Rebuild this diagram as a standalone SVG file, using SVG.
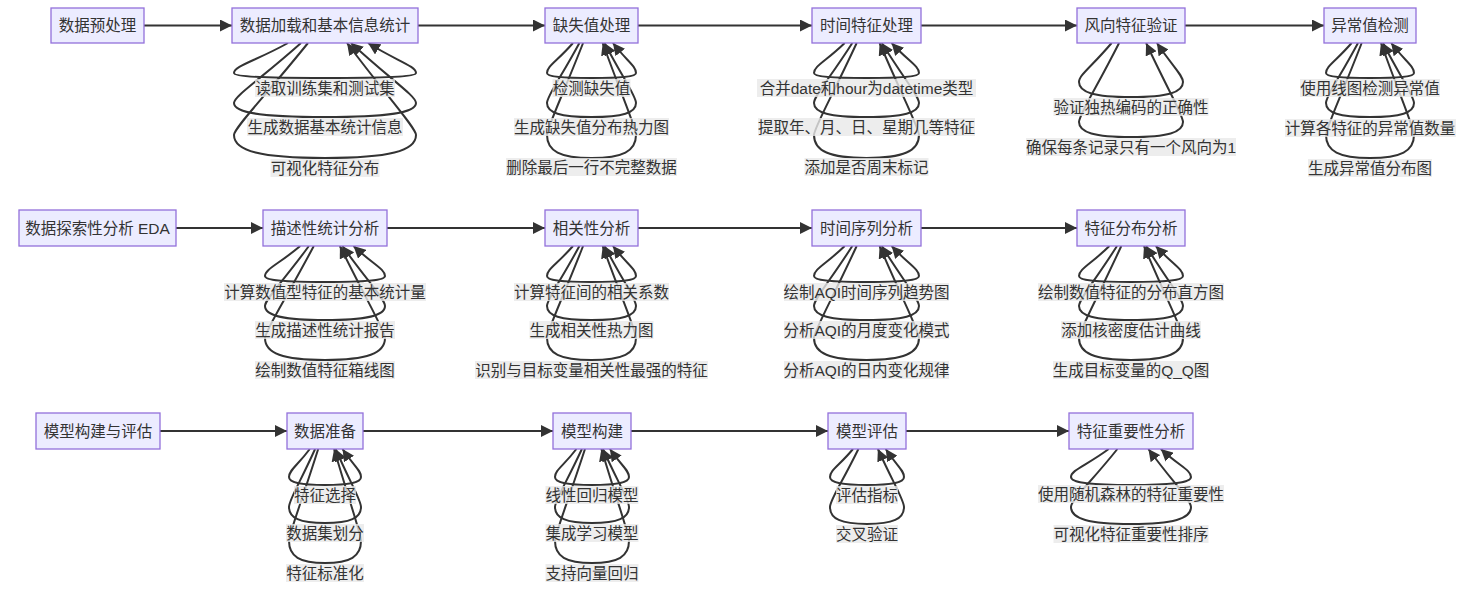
<svg xmlns="http://www.w3.org/2000/svg" width="1476" height="590" viewBox="0 0 1476 590">
<style>
.node rect{fill:#ECECFF;stroke:#9370DB;stroke-width:1.3}
text{font-family:"Liberation Sans","Noto Sans CJK SC",sans-serif;font-size:15.5px;fill:#333;text-anchor:middle;dominant-baseline:central}
.edge{fill:none;stroke:#333;stroke-width:2;marker-end:url(#arr)}
.lbl rect{fill:rgba(232,232,232,0.8)}
</style>
<defs>
<marker id="arr" viewBox="0 0 10 10" refX="10" refY="5" markerUnits="userSpaceOnUse" markerWidth="12" markerHeight="12" orient="auto"><path d="M0,0 L10,5 L0,10 z" fill="#333"/></marker>
</defs>
<rect width="1476" height="590" fill="#fff"/>
<g id="connectors">
<path class="edge" d="M144,25.5 L232,25.5"/>
<path class="edge" d="M418,25.5 L545,25.5"/>
<path class="edge" d="M638,25.5 L812,25.5"/>
<path class="edge" d="M921,25.5 L1077,25.5"/>
<path class="edge" d="M1185,25.5 L1324,25.5"/>
<path class="edge" d="M176,228 L263,228"/>
<path class="edge" d="M387,228 L545,228"/>
<path class="edge" d="M638,228 L812,228"/>
<path class="edge" d="M921,228 L1077,228"/>
<path class="edge" d="M160,431 L287,431"/>
<path class="edge" d="M363,431 L553,431"/>
<path class="edge" d="M631,431 L828,431"/>
<path class="edge" d="M906,431 L1069,431"/>
<path class="edge" d="M288,43 C255.6,61 234,66 234,73 C234,76.5 261.3,78 325,78 C388.7,78 416,76.5 416,73 C416,66 396.8,61 368,43"/>
<path class="edge" d="M301,43 C260.8,79 234,96 234,103 C234,112.8 261.3,117 325,117 C388.7,117 416,112.8 416,103 C416,96 390,79 351,43"/>
<path class="edge" d="M308,43 C263.6,98.2 234,128 234,135 C234,151.1 261.3,158 325,158 C388.7,158 416,151.1 416,135 C416,128 388.4,98.2 347,43"/>
<path class="edge" d="M573,43 C557.4,61 547,66 547,73 C547,76.5 560.35,78 591.5,78 C622.65,78 636,76.5 636,73 C636,66 626.8,61 612.9,43"/>
<path class="edge" d="M579.4,43 C560,79 547,96 547,103 C547,112.8 560.35,117 591.5,117 C622.65,117 636,112.8 636,103 C636,96 623.4,79 604.5,43"/>
<path class="edge" d="M583.1,43 C561.4,98.2 547,128 547,135 C547,151.1 560.35,158 591.5,158 C622.65,158 636,151.1 636,135 C636,128 622.7,98.2 602.7,43"/>
<path class="edge" d="M844.7,43 C826.3,61 814,66 814,73 C814,76.5 829.75,78 866.5,78 C903.25,78 919,76.5 919,73 C919,66 908,61 891.6,43"/>
<path class="edge" d="M852.3,43 C829.3,79 814,96 814,103 C814,112.8 829.75,117 866.5,117 C903.25,117 919,112.8 919,103 C919,96 904.1,79 881.8,43"/>
<path class="edge" d="M856.7,43 C831.1,98.2 814,128 814,135 C814,151.1 829.75,158 866.5,158 C903.25,158 919,151.1 919,135 C919,128 903.2,98.2 879.6,43"/>
<path class="edge" d="M1111.6,43 C1092,66.4 1079,75 1079,82 C1079,92.5 1094.6,97 1131,97 C1167.4,97 1183,92.5 1183,82 C1183,75 1172.6,66.4 1156.9,43"/>
<path class="edge" d="M1119.1,43 C1095,90.4 1079,115 1079,122 C1079,132.5 1094.6,137 1131,137 C1167.4,137 1183,132.5 1183,122 C1183,115 1168.2,90.4 1146.1,43"/>
<path class="edge" d="M1351.6,43 C1336.2,61 1326,66 1326,73 C1326,76.5 1339.2,78 1370,78 C1400.8,78 1414,76.5 1414,73 C1414,66 1404.9,61 1391.2,43"/>
<path class="edge" d="M1358,43 C1338.8,79 1326,96 1326,103 C1326,112.8 1339.2,117 1370,117 C1400.8,117 1414,112.8 1414,103 C1414,96 1401.6,79 1382.9,43"/>
<path class="edge" d="M1361.7,43 C1340.3,98.2 1326,128 1326,135 C1326,151.1 1339.2,158 1370,158 C1400.8,158 1414,151.1 1414,135 C1414,128 1400.8,98.2 1381,43"/>
<path class="edge" d="M300.2,246 C279.1,264 265,269 265,276 C265,280.2 283,282 325,282 C367,282 385,280.2 385,276 C385,269 372.4,264 353.5,246"/>
<path class="edge" d="M308.9,246 C282.6,282 265,299 265,306 C265,315.8 283,320 325,320 C367,320 385,315.8 385,306 C385,299 368,282 342.4,246"/>
<path class="edge" d="M313.8,246 C284.5,301.2 265,331 265,338 C265,353.4 283,360 325,360 C367,360 385,353.4 385,338 C385,331 367,301.2 339.9,246"/>
<path class="edge" d="M573,246 C557.4,264 547,269 547,276 C547,280.2 560.35,282 591.5,282 C622.65,282 636,280.2 636,276 C636,269 626.8,264 612.9,246"/>
<path class="edge" d="M579.4,246 C560,282 547,299 547,306 C547,315.8 560.35,320 591.5,320 C622.65,320 636,315.8 636,306 C636,299 623.4,282 604.5,246"/>
<path class="edge" d="M583.1,246 C561.4,301.2 547,331 547,338 C547,353.4 560.35,360 591.5,360 C622.65,360 636,353.4 636,338 C636,331 622.7,301.2 602.7,246"/>
<path class="edge" d="M844.7,246 C826.3,264 814,269 814,276 C814,280.2 829.75,282 866.5,282 C903.25,282 919,280.2 919,276 C919,269 908,264 891.6,246"/>
<path class="edge" d="M852.3,246 C829.3,282 814,299 814,306 C814,315.8 829.75,320 866.5,320 C903.25,320 919,315.8 919,306 C919,299 904.1,282 881.8,246"/>
<path class="edge" d="M856.7,246 C831.1,301.2 814,331 814,338 C814,353.4 829.75,360 866.5,360 C903.25,360 919,353.4 919,338 C919,331 903.2,301.2 879.6,246"/>
<path class="edge" d="M1109.4,246 C1091.2,264 1079,269 1079,276 C1079,280.2 1094.6,282 1131,282 C1167.4,282 1183,280.2 1183,276 C1183,269 1172.1,264 1155.8,246"/>
<path class="edge" d="M1117,246 C1094.2,282 1079,299 1079,306 C1079,315.8 1094.6,320 1131,320 C1167.4,320 1183,315.8 1183,306 C1183,299 1168.2,282 1146.1,246"/>
<path class="edge" d="M1121.3,246 C1095.9,301.2 1079,331 1079,338 C1079,353.4 1094.6,360 1131,360 C1167.4,360 1183,353.4 1183,338 C1183,331 1167.4,301.2 1144,246"/>
<path class="edge" d="M309.8,449 C297.3,465.8 289,470 289,477 C289,482.6 299.8,485 325,485 C350.2,485 361,482.6 361,477 C361,470 353.6,465.8 342.5,449"/>
<path class="edge" d="M315.1,449 C299.4,483.8 289,500 289,507 C289,518.2 299.8,523 325,523 C350.2,523 361,518.2 361,507 C361,500 350.8,483.8 335.6,449"/>
<path class="edge" d="M318.2,449 C300.7,504.2 289,534 289,541 C289,556.4 299.8,563 325,563 C350.2,563 361,556.4 361,541 C361,534 350.2,504.2 334.1,449"/>
<path class="edge" d="M576.4,449 C563.6,465.8 555,470 555,477 C555,482.6 566.1,485 592,485 C617.9,485 629,482.6 629,477 C629,470 621.4,465.8 609.9,449"/>
<path class="edge" d="M581.9,449 C565.8,483.8 555,500 555,507 C555,518.2 566.1,523 592,523 C617.9,523 629,518.2 629,507 C629,500 618.6,483.8 602.9,449"/>
<path class="edge" d="M585,449 C567,504.2 555,534 555,541 C555,556.4 566.1,563 592,563 C617.9,563 629,556.4 629,541 C629,534 618,504.2 601.4,449"/>
<path class="edge" d="M853,449 C839.2,465.8 830,470 830,477 C830,482.6 841.1,485 867,485 C892.9,485 904,482.6 904,477 C904,470 896.7,465.8 885.7,449"/>
<path class="edge" d="M858.4,449 C841.4,483.8 830,500 830,507 C830,518.9 841.1,524 867,524 C892.9,524 904,518.9 904,507 C904,500 893.6,483.8 877.9,449"/>
<path class="edge" d="M1108.7,449 C1086.1,465.8 1071,470 1071,477 C1071,482.6 1089,485 1131,485 C1173,485 1191,482.6 1191,477 C1191,470 1178.9,465.8 1160.8,449"/>
<path class="edge" d="M1117.4,449 C1089.6,483.8 1071,500 1071,507 C1071,518.9 1089,524 1131,524 C1173,524 1191,518.9 1191,507 C1191,500 1174,483.8 1148.4,449"/>
</g>
<g id="edge-labels">
<g class="lbl"><rect x="255" y="79" width="140" height="18"/><text x="325" y="88">读取训练集和测试集</text></g>
<g class="lbl"><rect x="247" y="118" width="156" height="18"/><text x="325" y="127">生成数据基本统计信息</text></g>
<g class="lbl"><rect x="270.5" y="159" width="109" height="18"/><text x="325" y="168">可视化特征分布</text></g>
<g class="lbl"><rect x="552.5" y="79" width="78" height="18"/><text x="591.5" y="88">检测缺失值</text></g>
<g class="lbl"><rect x="514" y="118" width="155" height="18"/><text x="591.5" y="127">生成缺失值分布热力图</text></g>
<g class="lbl"><rect x="506" y="158" width="171" height="18"/><text x="591.5" y="167">删除最后一行不完整数据</text></g>
<g class="lbl"><rect x="757" y="79" width="219" height="18"/><text x="866.5" y="88">合并date和hour为datetime类型</text></g>
<g class="lbl"><rect x="758" y="118" width="217" height="18"/><text x="866.5" y="127">提取年、月、日、星期几等特征</text></g>
<g class="lbl"><rect x="804.5" y="158" width="124" height="18"/><text x="866.5" y="167">添加是否周末标记</text></g>
<g class="lbl"><rect x="1053.5" y="98" width="155" height="18"/><text x="1131" y="107">验证独热编码的正确性</text></g>
<g class="lbl"><rect x="1026" y="138" width="210" height="18"/><text x="1131" y="147">确保每条记录只有一个风向为1</text></g>
<g class="lbl"><rect x="1300" y="79" width="140" height="18"/><text x="1370" y="88">使用线图检测异常值</text></g>
<g class="lbl"><rect x="1285" y="119" width="171" height="18"/><text x="1370" y="128">计算各特征的异常值数量</text></g>
<g class="lbl"><rect x="1308" y="159" width="124" height="18"/><text x="1370" y="168">生成异常值分布图</text></g>
<g class="lbl"><rect x="224" y="283" width="202" height="18"/><text x="325" y="292">计算数值型特征的基本统计量</text></g>
<g class="lbl"><rect x="255" y="321" width="140" height="18"/><text x="325" y="330">生成描述性统计报告</text></g>
<g class="lbl"><rect x="255" y="361" width="140" height="18"/><text x="325" y="370">绘制数值特征箱线图</text></g>
<g class="lbl"><rect x="514" y="283" width="155" height="18"/><text x="591.5" y="292">计算特征间的相关系数</text></g>
<g class="lbl"><rect x="529.5" y="321" width="124" height="18"/><text x="591.5" y="330">生成相关性热力图</text></g>
<g class="lbl"><rect x="475" y="361" width="233" height="18"/><text x="591.5" y="370">识别与目标变量相关性最强的特征</text></g>
<g class="lbl"><rect x="784" y="283" width="165" height="18"/><text x="866.5" y="292">绘制AQI时间序列趋势图</text></g>
<g class="lbl"><rect x="784" y="321" width="165" height="18"/><text x="866.5" y="330">分析AQI的月度变化模式</text></g>
<g class="lbl"><rect x="784" y="361" width="165" height="18"/><text x="866.5" y="370">分析AQI的日内变化规律</text></g>
<g class="lbl"><rect x="1038" y="283" width="186" height="18"/><text x="1131" y="292">绘制数值特征的分布直方图</text></g>
<g class="lbl"><rect x="1061" y="321" width="140" height="18"/><text x="1131" y="330">添加核密度估计曲线</text></g>
<g class="lbl"><rect x="1053" y="361" width="156" height="18"/><text x="1131" y="370">生成目标变量的Q_Q图</text></g>
<g class="lbl"><rect x="294" y="486" width="62" height="18"/><text x="325" y="495">特征选择</text></g>
<g class="lbl"><rect x="286" y="524" width="78" height="18"/><text x="325" y="533">数据集划分</text></g>
<g class="lbl"><rect x="286" y="564" width="78" height="18"/><text x="325" y="573">特征标准化</text></g>
<g class="lbl"><rect x="545.5" y="486" width="93" height="18"/><text x="592" y="495">线性回归模型</text></g>
<g class="lbl"><rect x="545.5" y="524" width="93" height="18"/><text x="592" y="533">集成学习模型</text></g>
<g class="lbl"><rect x="545.5" y="564" width="93" height="18"/><text x="592" y="573">支持向量回归</text></g>
<g class="lbl"><rect x="836" y="486" width="62" height="18"/><text x="867" y="495">评估指标</text></g>
<g class="lbl"><rect x="836" y="525" width="62" height="18"/><text x="867" y="534">交叉验证</text></g>
<g class="lbl"><rect x="1038" y="485" width="186" height="18"/><text x="1131" y="494">使用随机森林的特征重要性</text></g>
<g class="lbl"><rect x="1053.5" y="525" width="155" height="18"/><text x="1131" y="534">可视化特征重要性排序</text></g>
</g>
<g id="n-preprocess" class="node"><rect x="51" y="8" width="93" height="35"/><text x="97.5" y="25.5">数据预处理</text></g>
<g id="n-load" class="node"><rect x="232" y="8" width="186" height="35"/><text x="325" y="25.5">数据加载和基本信息统计</text></g>
<g id="n-missing" class="node"><rect x="545" y="8" width="93" height="35"/><text x="591.5" y="25.5">缺失值处理</text></g>
<g id="n-time" class="node"><rect x="812" y="8" width="109" height="35"/><text x="866.5" y="25.5">时间特征处理</text></g>
<g id="n-wind" class="node"><rect x="1077" y="8" width="108" height="35"/><text x="1131" y="25.5">风向特征验证</text></g>
<g id="n-outlier" class="node"><rect x="1324" y="8" width="92" height="35"/><text x="1370" y="25.5">异常值检测</text></g>
<g id="n-eda" class="node"><rect x="19" y="210" width="157" height="36"/><text x="97.5" y="228">数据探索性分析 EDA</text></g>
<g id="n-desc" class="node"><rect x="263" y="210" width="124" height="36"/><text x="325" y="228">描述性统计分析</text></g>
<g id="n-corr" class="node"><rect x="545" y="210" width="93" height="36"/><text x="591.5" y="228">相关性分析</text></g>
<g id="n-ts" class="node"><rect x="812" y="210" width="109" height="36"/><text x="866.5" y="228">时间序列分析</text></g>
<g id="n-dist" class="node"><rect x="1077" y="210" width="108" height="36"/><text x="1131" y="228">特征分布分析</text></g>
<g id="n-model" class="node"><rect x="36" y="413" width="124" height="36"/><text x="98" y="431">模型构建与评估</text></g>
<g id="n-prep" class="node"><rect x="287" y="413" width="76" height="36"/><text x="325" y="431">数据准备</text></g>
<g id="n-build" class="node"><rect x="553" y="413" width="78" height="36"/><text x="592" y="431">模型构建</text></g>
<g id="n-eval" class="node"><rect x="828" y="413" width="78" height="36"/><text x="867" y="431">模型评估</text></g>
<g id="n-imp" class="node"><rect x="1069" y="413" width="124" height="36"/><text x="1131" y="431">特征重要性分析</text></g>
</svg>
